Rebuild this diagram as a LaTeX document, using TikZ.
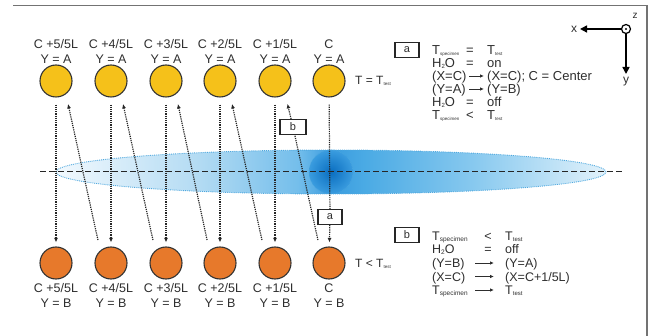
\documentclass[tikz,border=0pt]{standalone}
\usepackage{fontspec}
\setmainfont{Liberation Sans}
\usetikzlibrary{arrows.meta,calc}
\definecolor{txt}{HTML}{2E2E2E}
\definecolor{cYellow}{HTML}{F5C11A}
\definecolor{cOrange}{HTML}{E7792B}
\definecolor{bA}{HTML}{F2F9FE}
\definecolor{bB}{HTML}{B3DBF3}
\definecolor{bC}{HTML}{74BEEB}
\definecolor{bD}{HTML}{3A9CDF}
\definecolor{bE}{HTML}{4AAAE4}
\definecolor{bF}{HTML}{88C9EF}
\definecolor{bG}{HTML}{E2F2FB}
\definecolor{bSpot}{HTML}{0A6EC0}
\definecolor{bLine}{HTML}{4FA8DE}
\pgfdeclarehorizontalshading{beam}{100bp}{color(0bp)=(bA); color(25bp)=(bA); color(38bp)=(bB); color(47bp)=(bC); color(50bp)=(bD); color(53bp)=(bE); color(63bp)=(bF); color(75bp)=(bG); color(100bp)=(bG)}
\newcommand{\smallsub}[2]{\raisebox{-1pt}{\fontsize{#1}{#1}\selectfont #2}}
\begin{document}
\begin{tikzpicture}[x=1pt,y=-1pt,
  every node/.style={text=txt},
  ball/.style={circle,draw=black!80,line width=1.1pt,minimum size=32pt,inner sep=0pt},
  hot/.style={ball,fill=cYellow},
  cold/.style={ball,fill=cOrange},
  lbl/.style={align=center,font=\fontsize{12.5}{15}\selectfont,inner sep=0pt},
  flowline/.style={densely dotted,line width=1.2pt,draw=black!85},
  flow/.style={flowline,-{Latex[length=4.5pt,width=4pt]}},
  tag/.style={draw=black!85,line width=1.1pt,fill=white,minimum width=24pt,minimum height=15pt,inner sep=0pt,font=\fontsize{11}{11}\selectfont},
  ta/.style={anchor=base west,inner sep=0pt,font=\fontsize{13}{14}\selectfont},
  tam/.style={ta,anchor=base},
  tb/.style={anchor=base west,inner sep=0pt,font=\fontsize{12.5}{14}\selectfont},
  tbm/.style={tb,anchor=base},
  txtarrow/.style={line width=0.8pt,draw=txt,-{Latex[length=4pt,width=3.5pt]}},
  axis/.style={line width=1.5pt,draw=black,-{Triangle[length=7pt,width=7pt]}}
]
\useasboundingbox (0,0) rectangle (652,336);
% frame
\draw[line width=1.3pt,draw=black!55] (13,5.5) -- (647,5.5) -- (647,336);
% beam
\shadedraw[shading=beam,draw=bLine,densely dotted,line width=0.9pt] (331,172) ellipse [x radius=275pt, y radius=22pt];
\shade[inner color=bSpot,outer color=bD] (331,172) circle (22pt);
\draw[densely dotted,draw=bLine,line width=0.6pt] (331,172) circle (22pt);
\coordinate (dl) at (40,172);
\coordinate (dr) at (623,172);
\draw[line width=1pt,draw=black!85,dash pattern=on 6pt off 3pt] (dl) -- (dr);
% specimens
\foreach \i/\x in {5/56,4/111,3/166,2/220,1/275} {
  \node[hot] (ya\i) at (\x,81) {};
  \node[lbl] (la\i) at (\x,51.5) {C +\i/5L\\Y = A};
  \node[cold] (ob\i) at (\x,263) {};
  \node[lbl] (lb\i) at (\x,295.5) {C +\i/5L\\Y = B};
}
\node[hot] (ya0) at (329,81) {};
\node[lbl] (la0) at (329,51.5) {C\\Y = A};
\node[cold] (ob0) at (329,263) {};
\node[lbl] (lb0) at (329,295.5) {C\\Y = B};
% tags on the paths
\node[tag] (boxa) at (330,217) {a};
\node[tag,minimum width=26pt] (boxb) at (293,127) {b};
% vertical moves
\foreach \i in {5,4,3,2,1}
  \draw[flow,shorten <=7pt,shorten >=4pt] (ya\i) -- (ob\i);
\draw[flowline,shorten <=7pt] (ya0) -- (boxa);
\draw[flow,shorten >=4pt] (boxa) -- (ob0);
% diagonal moves
\foreach \a/\b in {4/5,3/4,2/3,1/2}
  \draw[flow,shorten <=23.5pt,shorten >=23.5pt] ($(ob\a.center)+(-8,0)$) -- ($(ya\b.center)+(7,0)$);
\draw[flowline,shorten <=23.5pt] ($(ob0.center)+(-6,0)$) -- (boxb);
\draw[flow,shorten >=23.5pt] (boxb) -- ($(ya1.center)+(7,0)$);
% temperatures
\node[anchor=base west,inner sep=0pt,font=\fontsize{12}{14}\selectfont] (tt1) at (355,84.5) {T = T\smallsub{4.5}{test}};
\node[anchor=base west,inner sep=0pt,font=\fontsize{12}{14}\selectfont] (tt2) at (355,267.5) {T < T\smallsub{4.5}{test}};
% legend a
\node[tag] (tga) at (407,50) {a};
\node[ta] (a1l) at (432,54.5) {T\smallsub{4.5}{specimen}};
\node[tam] (a1m) at (470,54.5) {=};
\node[ta] (a1r) at (487,54.5) {T\smallsub{4.5}{test}};
\node[ta] (a2l) at (432,67.5) {H\smallsub{6}{2}O};
\node[tam] (a2m) at (470,67.5) {=};
\node[ta] (a2r) at (487,67.5) {on};
\node[ta] (a3l) at (432,80.5) {(X=C)};
\coordinate (a3s) at (469,76);
\coordinate (a3e) at (484,76);
\draw[txtarrow] (a3s) -- (a3e);
\node[ta] (a3r) at (487,80.5) {(X=C); C = Center};
\node[ta] (a4l) at (432,93.5) {(Y=A)};
\coordinate (a4s) at (469,89);
\coordinate (a4e) at (484,89);
\draw[txtarrow] (a4s) -- (a4e);
\node[ta] (a4r) at (487,93.5) {(Y=B)};
\node[ta] (a5l) at (432,106.5) {H\smallsub{6}{2}O};
\node[tam] (a5m) at (470,106.5) {=};
\node[ta] (a5r) at (487,106.5) {off};
\node[ta] (a6l) at (432,119.5) {T\smallsub{4.5}{specimen}};
\node[tam] (a6m) at (470,119.5) {<};
\node[ta] (a6r) at (487,119.5) {T\smallsub{4.5}{test}};
% legend b
\node[tag] (tgb) at (407,235) {b};
\node[tb] (b1l) at (432,240.5) {T\smallsub{6.5}{specimen}};
\node[tbm] (b1m) at (488,240.5) {<};
\node[tb] (b1r) at (505,240.5) {T\smallsub{6}{test}};
\node[tb] (b2l) at (432,254) {H\smallsub{6.5}{2}O};
\node[tbm] (b2m) at (488,254) {=};
\node[tb] (b2r) at (505,254) {off};
\node[tb] (b3l) at (432,267.5) {(Y=B)};
\coordinate (b3s) at (475,263);
\coordinate (b3e) at (494,263);
\draw[txtarrow] (b3s) -- (b3e);
\node[tb] (b3r) at (505,267.5) {(Y=A)};
\node[tb] (b4l) at (432,281) {(X=C)};
\coordinate (b4s) at (475,276.5);
\coordinate (b4e) at (494,276.5);
\draw[txtarrow] (b4s) -- (b4e);
\node[tb] (b4r) at (505,281) {(X=C+1/5L)};
\node[tb] (b5l) at (432,294.5) {T\smallsub{6.5}{specimen}};
\coordinate (b5s) at (475,290);
\coordinate (b5e) at (494,290);
\draw[txtarrow] (b5s) -- (b5e);
\node[tb] (b5r) at (505,294.5) {T\smallsub{6}{test}};
% axes
\node[circle,draw=black,line width=1.2pt,minimum size=9pt,inner sep=0pt] (org) at (626,29) {};
\fill (org.center) circle (1.1pt);
\coordinate (xe) at (580,29);
\coordinate (ye) at (626,74);
\draw[axis] (org) -- (xe);
\draw[axis] (org) -- (ye);
\node[font=\fontsize{12}{12}\selectfont,inner sep=0pt] (xl) at (574,29) {x};
\node[font=\fontsize{12}{12}\selectfont,inner sep=0pt] (yl) at (626,82) {y};
\node[font=\fontsize{10}{10}\selectfont,inner sep=0pt] (zl) at (635,16) {z};
\end{tikzpicture}
\end{document}
